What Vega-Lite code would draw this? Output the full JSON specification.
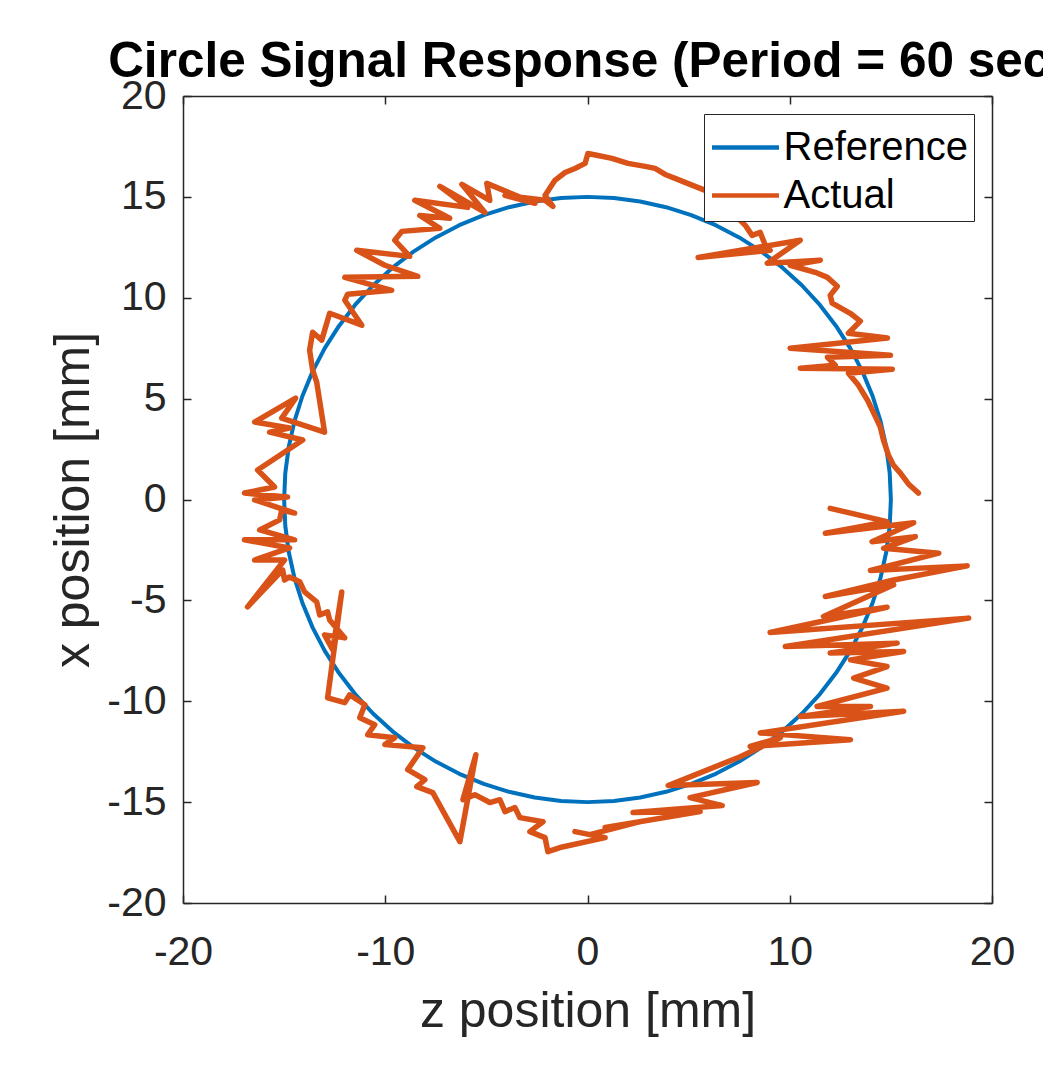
{
"$schema":"https://vega.github.io/schema/vega-lite/v6.json",
"width":809,"height":807,
"autosize":{"type":"none"},
"padding":{"left":183,"top":96,"right":51,"bottom":162},
"background":"white",
"title":{"text":"Circle Signal Response (Period = 60 sec)","frame":"group","anchor":"middle","fontSize":49.5,"font":"Liberation Sans","fontWeight":"bold","color":"black","baseline":"alphabetic","offset":23,"dy":74},
"config":{
"view":{"stroke":null},
"axis":{"domainColor":"#262626","domainWidth":1.5,"tickColor":"#262626","tickWidth":1.5,"tickSize":-8,"labelColor":"#262626","labelFont":"Liberation Sans","labelFontSize":41,"titleFont":"Liberation Sans","titleFontSize":50,"titleColor":"#262626","titleFontWeight":"normal","grid":false,"labelFlush":false,"labelOverlap":false,"labelExpr":"'' + datum.value"},
"legend":{"orient":"top-right","offset":18,"fillColor":"white","strokeColor":"#262626","padding":5.5,"symbolType":"M-1,0H1.627","symbolSize":2601,"symbolStrokeWidth":4.5,"labelFontSize":40,"labelFont":"Liberation Sans","labelColor":"black","labelOffset":18,"labelLimit":400,"rowPadding":-1}
},
"datasets":{
"ref":[
{"i":0,"z":15,"x":0,"s":"Reference"},{"i":1,"z":14.943,"x":1.307,"s":"Reference"},{"i":2,"z":14.772,"x":2.605,"s":"Reference"},{"i":3,"z":14.489,"x":3.882,"s":"Reference"},{"i":4,"z":14.095,"x":5.13,"s":"Reference"},{"i":5,"z":13.595,"x":6.339,"s":"Reference"},{"i":6,"z":12.99,"x":7.5,"s":"Reference"},{"i":7,"z":12.287,"x":8.604,"s":"Reference"},{"i":8,"z":11.491,"x":9.642,"s":"Reference"},{"i":9,"z":10.607,"x":10.607,"s":"Reference"},{"i":10,"z":9.642,"x":11.491,"s":"Reference"},{"i":11,"z":8.604,"x":12.287,"s":"Reference"},{"i":12,"z":7.5,"x":12.99,"s":"Reference"},{"i":13,"z":6.339,"x":13.595,"s":"Reference"},{"i":14,"z":5.13,"x":14.095,"s":"Reference"},{"i":15,"z":3.882,"x":14.489,"s":"Reference"},{"i":16,"z":2.605,"x":14.772,"s":"Reference"},{"i":17,"z":1.307,"x":14.943,"s":"Reference"},{"i":18,"z":0,"x":15,"s":"Reference"},{"i":19,"z":-1.307,"x":14.943,"s":"Reference"},{"i":20,"z":-2.605,"x":14.772,"s":"Reference"},{"i":21,"z":-3.882,"x":14.489,"s":"Reference"},{"i":22,"z":-5.13,"x":14.095,"s":"Reference"},{"i":23,"z":-6.339,"x":13.595,"s":"Reference"},{"i":24,"z":-7.5,"x":12.99,"s":"Reference"},{"i":25,"z":-8.604,"x":12.287,"s":"Reference"},{"i":26,"z":-9.642,"x":11.491,"s":"Reference"},{"i":27,"z":-10.607,"x":10.607,"s":"Reference"},{"i":28,"z":-11.491,"x":9.642,"s":"Reference"},{"i":29,"z":-12.287,"x":8.604,"s":"Reference"},{"i":30,"z":-12.99,"x":7.5,"s":"Reference"},{"i":31,"z":-13.595,"x":6.339,"s":"Reference"},{"i":32,"z":-14.095,"x":5.13,"s":"Reference"},{"i":33,"z":-14.489,"x":3.882,"s":"Reference"},{"i":34,"z":-14.772,"x":2.605,"s":"Reference"},{"i":35,"z":-14.943,"x":1.307,"s":"Reference"},{"i":36,"z":-15,"x":0,"s":"Reference"},{"i":37,"z":-14.943,"x":-1.307,"s":"Reference"},{"i":38,"z":-14.772,"x":-2.605,"s":"Reference"},{"i":39,"z":-14.489,"x":-3.882,"s":"Reference"},{"i":40,"z":-14.095,"x":-5.13,"s":"Reference"},{"i":41,"z":-13.595,"x":-6.339,"s":"Reference"},{"i":42,"z":-12.99,"x":-7.5,"s":"Reference"},{"i":43,"z":-12.287,"x":-8.604,"s":"Reference"},{"i":44,"z":-11.491,"x":-9.642,"s":"Reference"},{"i":45,"z":-10.607,"x":-10.607,"s":"Reference"},{"i":46,"z":-9.642,"x":-11.491,"s":"Reference"},{"i":47,"z":-8.604,"x":-12.287,"s":"Reference"},{"i":48,"z":-7.5,"x":-12.99,"s":"Reference"},{"i":49,"z":-6.339,"x":-13.595,"s":"Reference"},{"i":50,"z":-5.13,"x":-14.095,"s":"Reference"},{"i":51,"z":-3.882,"x":-14.489,"s":"Reference"},{"i":52,"z":-2.605,"x":-14.772,"s":"Reference"},{"i":53,"z":-1.307,"x":-14.943,"s":"Reference"},{"i":54,"z":0,"x":-15,"s":"Reference"},{"i":55,"z":1.307,"x":-14.943,"s":"Reference"},{"i":56,"z":2.605,"x":-14.772,"s":"Reference"},{"i":57,"z":3.882,"x":-14.489,"s":"Reference"},{"i":58,"z":5.13,"x":-14.095,"s":"Reference"},{"i":59,"z":6.339,"x":-13.595,"s":"Reference"},{"i":60,"z":7.5,"x":-12.99,"s":"Reference"},{"i":61,"z":8.604,"x":-12.287,"s":"Reference"},{"i":62,"z":9.642,"x":-11.491,"s":"Reference"},{"i":63,"z":10.607,"x":-10.607,"s":"Reference"},{"i":64,"z":11.491,"x":-9.642,"s":"Reference"},{"i":65,"z":12.287,"x":-8.604,"s":"Reference"},{"i":66,"z":12.99,"x":-7.5,"s":"Reference"},{"i":67,"z":13.595,"x":-6.339,"s":"Reference"},{"i":68,"z":14.095,"x":-5.13,"s":"Reference"},{"i":69,"z":14.489,"x":-3.882,"s":"Reference"},{"i":70,"z":14.772,"x":-2.605,"s":"Reference"},{"i":71,"z":14.943,"x":-1.307,"s":"Reference"},{"i":72,"z":15,"x":0,"s":"Reference"}
],
"act":[
{"i":1,"z":12.0,"x":-0.44,"s":"Actual"},{"i":2,"z":14.81,"x":-1.1,"s":"Actual"},{"i":3,"z":11.76,"x":-1.67,"s":"Actual"},{"i":4,"z":16.13,"x":-1.15,"s":"Actual"},{"i":5,"z":14.07,"x":-2.09,"s":"Actual"},{"i":6,"z":16.21,"x":-1.84,"s":"Actual"},{"i":7,"z":14.64,"x":-2.42,"s":"Actual"},{"i":8,"z":17.37,"x":-2.66,"s":"Actual"},{"i":9,"z":13.99,"x":-3.52,"s":"Actual"},{"i":10,"z":18.77,"x":-3.29,"s":"Actual"},
{"i":11,"z":15.14,"x":-3.99,"s":"Actual"},{"i":12,"z":11.76,"x":-4.81,"s":"Actual"},{"i":13,"z":15.14,"x":-4.23,"s":"Actual"},{"i":14,"z":11.67,"x":-5.8,"s":"Actual"},{"i":15,"z":14.81,"x":-5.34,"s":"Actual"},{"i":16,"z":9.03,"x":-6.59,"s":"Actual"},{"i":17,"z":18.85,"x":-5.88,"s":"Actual"},{"i":18,"z":9.78,"x":-7.29,"s":"Actual"},{"i":19,"z":15.31,"x":-7.12,"s":"Actual"},{"i":20,"z":12.0,"x":-7.61,"s":"Actual"},
{"i":21,"z":15.63,"x":-7.53,"s":"Actual"},{"i":22,"z":13.0,"x":-7.95,"s":"Actual"},{"i":23,"z":14.81,"x":-8.28,"s":"Actual"},{"i":24,"z":13.16,"x":-8.85,"s":"Actual"},{"i":25,"z":14.81,"x":-9.35,"s":"Actual"},{"i":26,"z":11.35,"x":-10.26,"s":"Actual"},{"i":27,"z":13.99,"x":-10.26,"s":"Actual"},{"i":28,"z":10.52,"x":-10.75,"s":"Actual"},{"i":29,"z":15.63,"x":-10.5,"s":"Actual"},{"i":30,"z":8.54,"x":-11.57,"s":"Actual"},
{"i":31,"z":13.0,"x":-11.91,"s":"Actual"},{"i":32,"z":8.04,"x":-12.24,"s":"Actual"},{"i":33,"z":9.53,"x":-11.81,"s":"Actual"},{"i":34,"z":7.55,"x":-12.75,"s":"Actual"},{"i":35,"z":3.99,"x":-14.18,"s":"Actual"},{"i":36,"z":8.39,"x":-14.03,"s":"Actual"},{"i":37,"z":5.07,"x":-14.78,"s":"Actual"},{"i":38,"z":6.66,"x":-15.17,"s":"Actual"},{"i":39,"z":2.25,"x":-15.52,"s":"Actual"},{"i":40,"z":5.57,"x":-15.47,"s":"Actual"},
{"i":41,"z":0.87,"x":-16.26,"s":"Actual"},{"i":42,"z":2.6,"x":-15.97,"s":"Actual"},{"i":43,"z":0.12,"x":-16.61,"s":"Actual"},{"i":44,"z":-0.62,"x":-16.46,"s":"Actual"},{"i":45,"z":0.87,"x":-16.76,"s":"Actual"},{"i":46,"z":-1.36,"x":-17.25,"s":"Actual"},{"i":47,"z":-1.96,"x":-17.45,"s":"Actual"},{"i":48,"z":-2.1,"x":-16.76,"s":"Actual"},{"i":49,"z":-2.85,"x":-16.46,"s":"Actual"},{"i":50,"z":-2.2,"x":-15.97,"s":"Actual"},
{"i":51,"z":-3.34,"x":-15.77,"s":"Actual"},{"i":52,"z":-3.59,"x":-15.27,"s":"Actual"},{"i":53,"z":-4.08,"x":-15.47,"s":"Actual"},{"i":54,"z":-4.33,"x":-14.88,"s":"Actual"},{"i":55,"z":-4.83,"x":-15.02,"s":"Actual"},{"i":56,"z":-5.57,"x":-14.63,"s":"Actual"},{"i":57,"z":-6.16,"x":-14.88,"s":"Actual"},{"i":58,"z":-5.52,"x":-12.65,"s":"Actual"},{"i":59,"z":-6.31,"x":-16.96,"s":"Actual"},{"i":60,"z":-7.65,"x":-14.53,"s":"Actual"},
{"i":61,"z":-8.44,"x":-14.23,"s":"Actual"},{"i":62,"z":-8.04,"x":-13.89,"s":"Actual"},{"i":63,"z":-8.89,"x":-13.39,"s":"Actual"},{"i":64,"z":-8.14,"x":-12.3,"s":"Actual"},{"i":65,"z":-10.02,"x":-12.15,"s":"Actual"},{"i":66,"z":-9.53,"x":-11.81,"s":"Actual"},{"i":67,"z":-10.87,"x":-11.66,"s":"Actual"},{"i":68,"z":-10.52,"x":-11.16,"s":"Actual"},{"i":69,"z":-11.26,"x":-10.82,"s":"Actual"},{"i":70,"z":-11.01,"x":-10.17,"s":"Actual"},
{"i":71,"z":-11.76,"x":-9.68,"s":"Actual"},{"i":72,"z":-12.0,"x":-10.07,"s":"Actual"},{"i":73,"z":-12.85,"x":-9.83,"s":"Actual"},{"i":74,"z":-12.15,"x":-4.58,"s":"Actual"},{"i":75,"z":-12.6,"x":-7.45,"s":"Actual"},{"i":76,"z":-13.0,"x":-6.71,"s":"Actual"},{"i":77,"z":-12.0,"x":-6.86,"s":"Actual"},{"i":78,"z":-12.75,"x":-5.97,"s":"Actual"},{"i":79,"z":-12.85,"x":-5.57,"s":"Actual"},{"i":80,"z":-13.24,"x":-5.72,"s":"Actual"},
{"i":81,"z":-13.39,"x":-5.07,"s":"Actual"},{"i":82,"z":-13.99,"x":-4.58,"s":"Actual"},{"i":83,"z":-14.23,"x":-4.08,"s":"Actual"},{"i":84,"z":-14.73,"x":-3.84,"s":"Actual"},{"i":85,"z":-14.98,"x":-3.99,"s":"Actual"},{"i":86,"z":-15.07,"x":-3.49,"s":"Actual"},{"i":87,"z":-16.81,"x":-5.32,"s":"Actual"},{"i":88,"z":-14.98,"x":-3.0,"s":"Actual"},{"i":89,"z":-16.46,"x":-3.0,"s":"Actual"},{"i":90,"z":-14.73,"x":-2.4,"s":"Actual"},
{"i":91,"z":-16.96,"x":-2.0,"s":"Actual"},{"i":92,"z":-14.48,"x":-2.0,"s":"Actual"},{"i":93,"z":-16.21,"x":-1.51,"s":"Actual"},{"i":94,"z":-15.22,"x":-1.01,"s":"Actual"},{"i":95,"z":-15.12,"x":-0.52,"s":"Actual"},{"i":96,"z":-14.48,"x":-0.67,"s":"Actual"},{"i":97,"z":-16.46,"x":-0.02,"s":"Actual"},{"i":98,"z":-14.83,"x":0.12,"s":"Actual"},{"i":99,"z":-16.96,"x":0.32,"s":"Actual"},{"i":100,"z":-15.47,"x":0.62,"s":"Actual"},
{"i":101,"z":-16.31,"x":1.46,"s":"Actual"},{"i":102,"z":-14.08,"x":2.95,"s":"Actual"},{"i":103,"z":-15.72,"x":3.34,"s":"Actual"},{"i":104,"z":-14.73,"x":3.54,"s":"Actual"},{"i":105,"z":-16.46,"x":3.84,"s":"Actual"},{"i":106,"z":-14.43,"x":5.02,"s":"Actual"},{"i":107,"z":-15.12,"x":4.03,"s":"Actual"},{"i":108,"z":-13.0,"x":3.34,"s":"Actual"},{"i":109,"z":-13.39,"x":5.82,"s":"Actual"},{"i":110,"z":-13.59,"x":6.41,"s":"Actual"},
{"i":111,"z":-13.74,"x":7.4,"s":"Actual"},{"i":112,"z":-13.59,"x":8.29,"s":"Actual"},{"i":113,"z":-13.14,"x":7.9,"s":"Actual"},{"i":114,"z":-12.75,"x":9.23,"s":"Actual"},{"i":115,"z":-11.16,"x":8.64,"s":"Actual"},{"i":116,"z":-12.0,"x":9.88,"s":"Actual"},{"i":117,"z":-11.86,"x":10.17,"s":"Actual"},{"i":118,"z":-9.68,"x":10.37,"s":"Actual"},{"i":119,"z":-12.0,"x":11.01,"s":"Actual"},{"i":120,"z":-8.39,"x":11.06,"s":"Actual"},
{"i":121,"z":-10.02,"x":11.61,"s":"Actual"},{"i":122,"z":-11.41,"x":12.35,"s":"Actual"},{"i":123,"z":-8.79,"x":12.05,"s":"Actual"},{"i":124,"z":-9.53,"x":12.85,"s":"Actual"},{"i":125,"z":-9.18,"x":13.29,"s":"Actual"},{"i":126,"z":-7.3,"x":13.44,"s":"Actual"},{"i":127,"z":-8.29,"x":14.08,"s":"Actual"},{"i":128,"z":-6.81,"x":13.94,"s":"Actual"},{"i":129,"z":-8.54,"x":14.83,"s":"Actual"},{"i":130,"z":-5.92,"x":14.48,"s":"Actual"},
{"i":131,"z":-7.3,"x":15.52,"s":"Actual"},{"i":132,"z":-5.07,"x":14.23,"s":"Actual"},{"i":133,"z":-6.21,"x":15.62,"s":"Actual"},{"i":134,"z":-4.83,"x":14.83,"s":"Actual"},{"i":135,"z":-4.98,"x":15.67,"s":"Actual"},{"i":136,"z":-2.6,"x":14.68,"s":"Actual"},{"i":137,"z":-4.08,"x":15.07,"s":"Actual"},{"i":138,"z":-2.1,"x":14.83,"s":"Actual"},{"i":139,"z":-1.71,"x":14.53,"s":"Actual"},{"i":140,"z":-2.1,"x":15.07,"s":"Actual"},
{"i":141,"z":-1.61,"x":15.82,"s":"Actual"},{"i":142,"z":-1.11,"x":16.21,"s":"Actual"},{"i":143,"z":-0.62,"x":16.41,"s":"Actual"},{"i":144,"z":-0.12,"x":16.66,"s":"Actual"},{"i":145,"z":0.02,"x":17.15,"s":"Actual"},{"i":146,"z":0.52,"x":17.05,"s":"Actual"},{"i":147,"z":1.21,"x":16.91,"s":"Actual"},{"i":148,"z":2.0,"x":16.66,"s":"Actual"},{"i":149,"z":2.85,"x":16.51,"s":"Actual"},{"i":150,"z":3.34,"x":16.41,"s":"Actual"},
{"i":151,"z":3.84,"x":16.11,"s":"Actual"},{"i":152,"z":4.33,"x":15.92,"s":"Actual"},{"i":153,"z":5.07,"x":15.62,"s":"Actual"},{"i":154,"z":5.82,"x":15.32,"s":"Actual"},{"i":155,"z":6.81,"x":14.58,"s":"Actual"},{"i":156,"z":7.8,"x":13.59,"s":"Actual"},{"i":157,"z":8.14,"x":13.09,"s":"Actual"},{"i":158,"z":8.54,"x":13.24,"s":"Actual"},{"i":159,"z":8.79,"x":12.6,"s":"Actual"},{"i":160,"z":9.03,"x":12.35,"s":"Actual"},
{"i":161,"z":5.47,"x":12.0,"s":"Actual"},{"i":162,"z":10.52,"x":12.85,"s":"Actual"},{"i":163,"z":8.89,"x":11.71,"s":"Actual"},{"i":164,"z":11.51,"x":11.86,"s":"Actual"},{"i":165,"z":10.02,"x":11.61,"s":"Actual"},{"i":166,"z":11.26,"x":11.26,"s":"Actual"},{"i":167,"z":11.86,"x":11.01,"s":"Actual"},{"i":168,"z":12.35,"x":10.57,"s":"Actual"},{"i":169,"z":12.0,"x":10.12,"s":"Actual"},{"i":170,"z":12.1,"x":9.73,"s":"Actual"},
{"i":171,"z":12.99,"x":9.23,"s":"Actual"},{"i":172,"z":13.49,"x":8.84,"s":"Actual"},{"i":173,"z":12.9,"x":8.24,"s":"Actual"},{"i":174,"z":14.83,"x":8.0,"s":"Actual"},{"i":175,"z":10.02,"x":7.5,"s":"Actual"},{"i":176,"z":14.98,"x":7.15,"s":"Actual"},{"i":177,"z":11.86,"x":7.05,"s":"Actual"},{"i":178,"z":12.25,"x":6.66,"s":"Actual"},{"i":179,"z":10.52,"x":6.51,"s":"Actual"},{"i":180,"z":15.07,"x":6.46,"s":"Actual"},
{"i":181,"z":12.9,"x":6.26,"s":"Actual"},{"i":182,"z":13.39,"x":5.67,"s":"Actual"},{"i":183,"z":13.84,"x":4.93,"s":"Actual"},{"i":184,"z":14.13,"x":4.33,"s":"Actual"},{"i":185,"z":14.48,"x":3.59,"s":"Actual"},{"i":186,"z":14.63,"x":2.95,"s":"Actual"},{"i":187,"z":14.88,"x":2.2,"s":"Actual"},{"i":188,"z":15.12,"x":1.71,"s":"Actual"},{"i":189,"z":15.47,"x":1.31,"s":"Actual"},{"i":190,"z":15.87,"x":0.77,"s":"Actual"},
{"i":191,"z":16.36,"x":0.32,"s":"Actual"}
]
},
"layer":[
{"data":{"name":"ref"},
"mark":{"type":"line","strokeWidth":4,"strokeJoin":"round","strokeCap":"round"},
"encoding":{
"x":{"field":"z","type":"quantitative","scale":{"domain":[-20,20],"nice":false,"zero":false},"axis":{"orient":"bottom","values":[-20,-10,0,10,20],"title":"z position [mm]","labelPadding":37,"titlePadding":14}},
"y":{"field":"x","type":"quantitative","scale":{"domain":[-20,20],"nice":false,"zero":false},"axis":{"orient":"left","values":[-20,-15,-10,-5,0,5,10,15,20],"title":"x position [mm]","labelPadding":25,"titlePadding":8}},
"order":{"field":"i","type":"quantitative"},
"color":{"field":"s","type":"nominal","scale":{"domain":["Reference","Actual"],"range":["#0072BD","#D95319"]},"legend":{"title":null}}
}},
{"data":{"name":"act"},
"mark":{"type":"line","strokeWidth":5.5,"strokeJoin":"round","strokeCap":"round"},
"encoding":{
"x":{"field":"z","type":"quantitative","scale":{"domain":[-20,20],"nice":false,"zero":false},"axis":{"orient":"top","values":[-20,-10,0,10,20],"labels":false,"title":null}},
"y":{"field":"x","type":"quantitative","scale":{"domain":[-20,20],"nice":false,"zero":false},"axis":{"orient":"right","values":[-20,-15,-10,-5,0,5,10,15,20],"labels":false,"title":null}},
"order":{"field":"i","type":"quantitative"},
"color":{"field":"s","type":"nominal","scale":{"domain":["Reference","Actual"],"range":["#0072BD","#D95319"]},"legend":{"title":null}}
}}
],
"resolve":{"axis":{"x":"independent","y":"independent"}}
}
